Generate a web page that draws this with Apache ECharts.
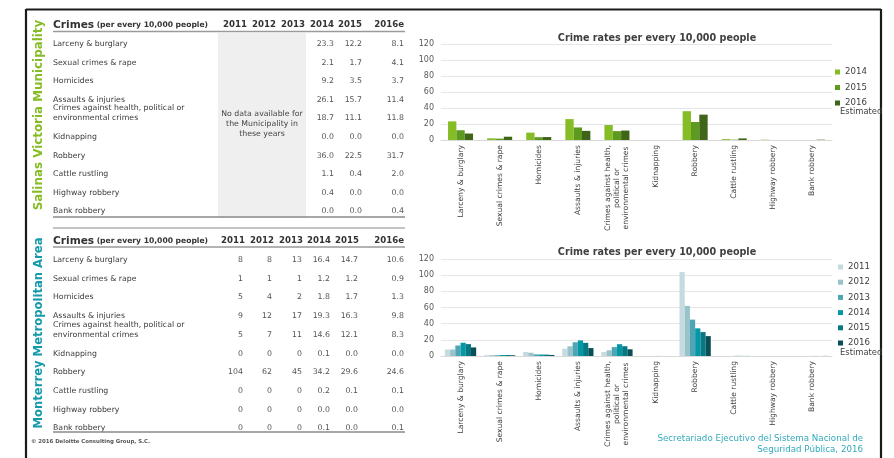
<!DOCTYPE html>
<html>
<head>
<meta charset="utf-8">
<script src="https://cdn.jsdelivr.net/npm/echarts@6/dist/echarts.min.js"></script>
<style>
  html, body { margin: 0; padding: 0; background: #fff; }
  #chart { width: 894px; height: 458px; }
</style>
</head>
<body>
<div id="chart"></div>
<script>
// Crime categories (rows of both tables, x-axis of both charts)
const categories = ['Larceny & burglary', 'Sexual crimes & rape', 'Homicides', 'Assaults & injuries',
  'Crimes against health, political or environmental crimes', 'Kidnapping', 'Robbery',
  'Cattle rustling', 'Highway robbery', 'Bank robbery'];
const yearHeaders = ['2011', '2012', '2013', '2014', '2015', '2016e'];
const yTicks = [0, 20, 40, 60, 80, 100, 120];

// Salinas Victoria Municipality, crimes per 10,000 people
const salinas2014 = [23.3, 2.1, 9.2, 26.1, 18.7, 0.0, 36.0, 1.1, 0.4, 0.0];
const salinas2015 = [12.2, 1.7, 3.5, 15.7, 11.1, 0.0, 22.5, 0.4, 0.0, 0.0];
const salinas2016e = [8.1, 4.1, 3.7, 11.4, 11.8, 0.0, 31.7, 2.0, 0.0, 0.4];

// Monterrey Metropolitan Area, crimes per 10,000 people
const mty2011 = [8, 1, 5, 9, 5, 0, 104, 0, 0, 0];
const mty2012 = [8, 1, 4, 12, 7, 0, 62, 0, 0, 0];
const mty2013 = [13, 1, 2, 17, 11, 0, 45, 0, 0, 0];
const mty2014 = [16.4, 1.2, 1.8, 19.3, 14.6, 0.1, 34.2, 0.2, 0.0, 0.1];
const mty2015 = [14.7, 1.2, 1.7, 16.3, 12.1, 0.0, 29.6, 0.1, 0.0, 0.0];
const mty2016e = [10.6, 0.9, 1.3, 9.8, 8.3, 0.0, 24.6, 0.1, 0.0, 0.1];

const FONT = '"DejaVu Sans", Verdana, sans-serif';
const GREEN = '#86BC25';
const TEAL = '#1699AA';
const greens = ['#86BC25', '#5F9A20', '#3F6519'];
const teals = ['#C6DBE0', '#98C3CB', '#4EA5B3', '#0497A6', '#067985', '#084F58'];

const chart = echarts.init(document.getElementById('chart'), null, { renderer: 'canvas' });

// ---------- tables drawn as graphic text ----------
const g = [];
function txt(x, y, text, opt) {
  g.push(Object.assign({
    type: 'text', silent: true,
    style: Object.assign({ x: x, y: y, text: text, font: '7.8px ' + FONT, fill: '#3a3a3a',
      align: 'left', verticalAlign: 'middle' }, opt || {})
  }));
}
function line(x1, y1, x2, y2, color, w) {
  g.push({ type: 'line', silent: true, shape: { x1, y1, x2, y2 },
    style: { stroke: color, lineWidth: w } });
}
function rowLabel(x, y, name) {
  if (name.indexOf('Crimes against') === 0) {
    txt(x, y - 5, 'Crimes against health, political or\nenvironmental crimes', { lineHeight: 10 });
  } else {
    txt(x, y, name);
  }
}
function header(y, rights) {
  txt(53, y, '{a|Crimes} {b|(per every 10,000 people)}', {
    rich: {
      a: { font: 'bold 10.6px ' + FONT, fill: '#333' },
      b: { font: 'bold 7.6px ' + FONT, fill: '#333' }
    }
  });
  yearHeaders.forEach((h, i) => txt(rights[i], y, h, { font: 'bold 8.6px ' + FONT, fill: '#333', align: 'right' }));
}

// outer frame
line(26, 9.5, 881, 9.5, '#1a1a1a', 2.2);
line(26, 9, 26, 458, '#1a1a1a', 2.2);
line(881, 9, 881, 458, '#1a1a1a', 2.2);

// Salinas table
g.push({ type: 'rect', silent: true, shape: { x: 218, y: 33, width: 88, height: 185 }, style: { fill: '#EFEFEF' } });
header(25, [247, 276, 305, 334, 362, 404]);
line(53, 31.5, 405, 31.5, '#9a9a9a', 1.6);
txt(262, 124, 'No data available for\nthe Municipality in\nthese years', { align: 'center', lineHeight: 10, fill: '#444' });
const topCols = [[salinas2014, 334], [salinas2015, 362], [salinas2016e, 404]];
categories.forEach((c, i) => {
  const y = 44 + i * 18.6;
  rowLabel(53, y, c);
  topCols.forEach(([arr, xr]) => txt(xr, y, arr[i].toFixed(1), { align: 'right', fill: '#555', font: '7.8px ' + FONT }));
});
line(53, 217, 405, 217, '#8a8a8a', 1.4);
line(53, 228, 405, 228, '#8a8a8a', 1.2);

// Monterrey table
header(241, [245, 274, 303, 331, 359, 404]);
line(53, 247, 405, 247, '#9a9a9a', 1.6);
const botCols = [[mty2011, 243, 0], [mty2012, 272, 0], [mty2013, 302, 0],
  [mty2014, 330, 1], [mty2015, 358, 1], [mty2016e, 404, 1]];
categories.forEach((c, i) => {
  const y = 260 + i * 18.7;
  rowLabel(53, y, c);
  botCols.forEach(([arr, xr, d]) => txt(xr, y, arr[i].toFixed(d), { align: 'right', fill: '#555', font: '7.8px ' + FONT }));
});
line(53, 432, 405, 432, '#8a8a8a', 1.4);

// side captions
g.push({ type: 'text', silent: true, x: 38.5, y: 115, rotation: Math.PI / 2,
  style: { text: 'Salinas Victoria Municipality', font: 'bold 11.9px ' + FONT, fill: GREEN, align: 'center', verticalAlign: 'middle' } });
g.push({ type: 'text', silent: true, x: 38.5, y: 333, rotation: Math.PI / 2,
  style: { text: 'Monterrey Metropolitan Area', font: 'bold 11.6px ' + FONT, fill: TEAL, align: 'center', verticalAlign: 'middle' } });

txt(31, 442, '\u00A9 2016 Deloitte Consulting Group, S.C.', { font: 'bold 5.4px ' + FONT, fill: '#555' });
txt(863, 439, 'Secretariado Ejecutivo del Sistema Nacional de', { align: 'right', font: '8.7px ' + FONT, fill: '#33AABB' });
txt(863, 450, 'Seguridad P\u00FAblica, 2016', { align: 'right', font: '8.7px ' + FONT, fill: '#33AABB' });

// second line of the "2016" legend entries
txt(840, 111.5, 'Estimated', { font: '8.4px ' + FONT, fill: '#404040' });
txt(840, 352.5, 'Estimated', { font: '8.4px ' + FONT, fill: '#404040' });

// ---------- charts ----------
function xAxisFor(gridIndex) {
  return {
    type: 'category', gridIndex, data: categories,
    axisTick: { show: false },
    axisLine: { show: true, lineStyle: { color: '#D9D9D9', width: 1 } },
    axisLabel: {
      interval: 0, rotate: 90, margin: 5, fontSize: 7.6, fontFamily: FONT, color: '#404040',
      formatter: v => v.indexOf('Crimes against') === 0
        ? '{c|Crimes against health,}\n{c|political or}\n{c|environmental crimes}' : v,
      rich: { c: { width: 86, align: 'center', fontSize: 7.6, fontFamily: FONT, color: '#404040', lineHeight: 9 } }
    }
  };
}
function yAxisFor(gridIndex) {
  return {
    type: 'value', gridIndex, min: yTicks[0], max: yTicks[yTicks.length - 1], interval: 20,
    axisLine: { show: false }, axisTick: { show: false },
    axisLabel: { fontSize: 8, fontFamily: FONT, color: '#595959', margin: 7 },
    splitLine: { lineStyle: { color: '#E6E6E6', width: 1 } }
  };
}
function bars(name, data, axis, color, gap) {
  return {
    type: 'bar', name, data, xAxisIndex: axis, yAxisIndex: axis,
    itemStyle: { color }, barGap: '0%', barCategoryGap: gap, silent: true
  };
}
const legendStyle = {
  orient: 'vertical', icon: 'rect', itemWidth: 5, itemHeight: 5, padding: 0,
  textStyle: { fontSize: 8.6, fontFamily: FONT, color: '#404040', lineHeight: 10 }
};

chart.setOption({
  animation: false,
  backgroundColor: '#fff',
  title: [
    { text: 'Crime rates per every 10,000 people', left: 652, top: 28, textAlign: 'center',
      textStyle: { fontSize: 9.6, fontWeight: 'bold', fontFamily: FONT, color: '#404040' } },
    { text: 'Crime rates per every 10,000 people', left: 652, top: 242, textAlign: 'center',
      textStyle: { fontSize: 9.6, fontWeight: 'bold', fontFamily: FONT, color: '#404040' } }
  ],
  grid: [
    { left: 441, top: 44, width: 391, height: 96 },
    { left: 441, top: 259, width: 391, height: 97 }
  ],
  xAxis: [xAxisFor(0), xAxisFor(1)],
  yAxis: [yAxisFor(0), yAxisFor(1)],
  legend: [
    Object.assign({ left: 835, top: 67, itemGap: 5.5, data: ['2014', '2015', '2016'] }, legendStyle),
    Object.assign({ left: 838, top: 262, itemGap: 5.2,
      data: ['2011 ', '2012 ', '2013 ', '2014 ', '2015 ', '2016 '] }, legendStyle)
  ],
  series: [
    bars('2014', salinas2014, 0, greens[0], '36%'),
    bars('2015', salinas2015, 0, greens[1], '36%'),
    bars('2016', salinas2016e, 0, greens[2], '36%'),
    bars('2011 ', mty2011, 1, teals[0], '20%'),
    bars('2012 ', mty2012, 1, teals[1], '20%'),
    bars('2013 ', mty2013, 1, teals[2], '20%'),
    bars('2014 ', mty2014, 1, teals[3], '20%'),
    bars('2015 ', mty2015, 1, teals[4], '20%'),
    bars('2016 ', mty2016e, 1, teals[5], '20%')
  ],
  graphic: g
});
</script>
</body>
</html>
